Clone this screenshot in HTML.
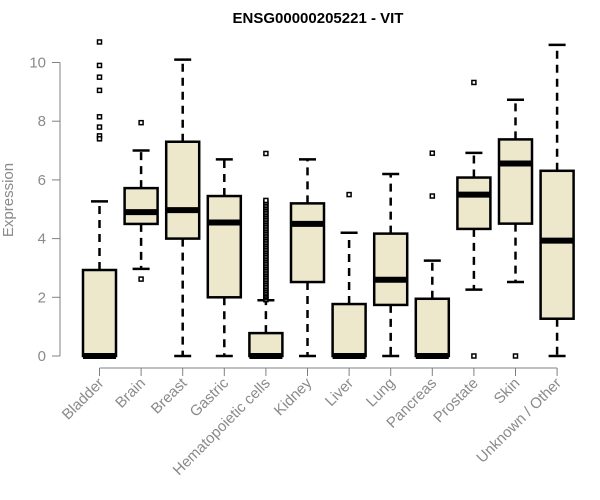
<!DOCTYPE html>
<html><head><meta charset="utf-8"><style>
html,body{margin:0;padding:0;background:#fff;}
svg{display:block;font-family:"Liberation Sans",Arial,sans-serif;}
</style></head><body>
<svg id="chart" width="600" height="500" viewBox="0 0 600 500">
<text x="318" y="23" text-anchor="middle" font-weight="bold" font-size="15" fill="#000">ENSG00000205221 - VIT</text>
<text transform="translate(13,200) rotate(-90)" text-anchor="middle" font-size="15" fill="#8a8a8a">Expression</text>
<g id="plot"></g>
</svg>
<script>
const categories=["Bladder","Brain","Breast","Gastric","Hematopoietic cells","Kidney","Liver","Lung","Pancreas","Prostate","Skin","Unknown / Other"];
const q1=[0,4.5,4.0,2.0,0,2.52,0,1.74,0,4.33,4.51,1.27];
const medians=[0,4.9,4.97,4.55,0,4.5,0,2.6,0,5.5,6.56,3.93];
const q3=[2.93,5.72,7.3,5.45,0.78,5.2,1.77,4.17,1.95,6.08,7.38,6.31];
const whiskerLow=[0,2.97,0,0,0,0,0,0,0,2.26,2.52,0];
const whiskerHigh=[5.27,7.0,10.1,6.7,1.9,6.7,4.2,6.2,3.25,6.92,8.73,10.6];
const outliers=[[10.7,9.9,9.5,9.05,8.15,7.8,7.5,7.4],[7.95,2.62],[],[],[1.92,1.98,2.03,2.08,2.13,2.18,2.24,2.3,2.36,2.42,2.48,2.54,2.6,2.66,2.72,2.78,2.84,2.9,2.96,3.02,3.08,3.14,3.2,3.26,3.32,3.38,3.44,3.5,3.56,3.62,3.68,3.74,3.8,3.86,3.92,3.98,4.04,4.1,4.16,4.22,4.28,4.34,4.4,4.46,4.52,4.58,4.64,4.7,4.76,4.82,4.88,4.94,5.0,5.06,5.12,5.18,5.24,5.3,6.9],[],[5.5],[],[6.91,5.45],[9.32,0],[0],[]];
const yTicks=[0,2,4,6,8,10];

const NS="http://www.w3.org/2000/svg";
const g=document.getElementById('plot');
const x0=99.5,dx=41.6,bw=33;
function xs(i){return x0+i*dx;}
function ys(v){return 356-v*29.35;}
function mk(tag,attrs,parent){const e=document.createElementNS(NS,tag);for(const k in attrs)e.setAttribute(k,attrs[k]);(parent||g).appendChild(e);return e;}

let ya=mk('line',{x1:60,x2:60,y1:ys(0),y2:ys(10),stroke:'#808080','stroke-width':1});


yTicks.forEach(t=>{
  let tk=mk('line',{x1:52,x2:60,y1:ys(t),y2:ys(t),stroke:'#808080'});
  
  
  let tl=mk('text',{x:46,y:ys(t)+5,'text-anchor':'end','font-size':15,fill:'#8a8a8a'});
  tl.textContent=t;
  
  
});
let xa=mk('line',{x1:xs(0),x2:xs(categories.length-1),y1:368,y2:368,stroke:'#808080'});



categories.forEach((c,i)=>{
  const cx=xs(i);
  let tk=mk('line',{x1:cx,x2:cx,y1:368,y2:376,stroke:'#808080'});
  
  
  let tl=mk('text',{x:0,y:0,'text-anchor':'end','font-size':15,fill:'#8a8a8a',transform:`translate(${cx+5},${384}) rotate(-45)`});
  tl.textContent=c;
  
  

  const grp=mk('g',{});
  
  
  const dash={stroke:'#000','stroke-width':2.5,'stroke-dasharray':'8,6'};
  mk('line',Object.assign({x1:cx,x2:cx,y1:ys(q3[i]),y2:ys(whiskerHigh[i])},dash),grp);
  mk('line',Object.assign({x1:cx,x2:cx,y1:ys(q1[i]),y2:ys(whiskerLow[i])},dash),grp);
  mk('line',{x1:cx-8.5,x2:cx+8.5,y1:ys(whiskerHigh[i]),y2:ys(whiskerHigh[i]),stroke:'#000','stroke-width':2.5},grp);
  mk('line',{x1:cx-8.5,x2:cx+8.5,y1:ys(whiskerLow[i]),y2:ys(whiskerLow[i]),stroke:'#000','stroke-width':2.5},grp);
  const top=ys(q3[i]),bot=ys(q1[i]);
  mk('rect',{x:cx-bw/2,y:top,width:bw,height:Math.max(bot-top,0.1),fill:'#ede8cc',stroke:'#000','stroke-width':2.5},grp);
  mk('line',{x1:cx-bw/2,x2:cx+bw/2,y1:ys(medians[i]),y2:ys(medians[i]),stroke:'#000','stroke-width':6},grp);
  outliers[i].forEach(v=>{
    let p=mk('rect',{x:cx-2,y:ys(v)-2,width:4,height:4,fill:'#fff',stroke:'#000','stroke-width':1.5},grp);
    
    
  });
});
</script>
</body></html>
